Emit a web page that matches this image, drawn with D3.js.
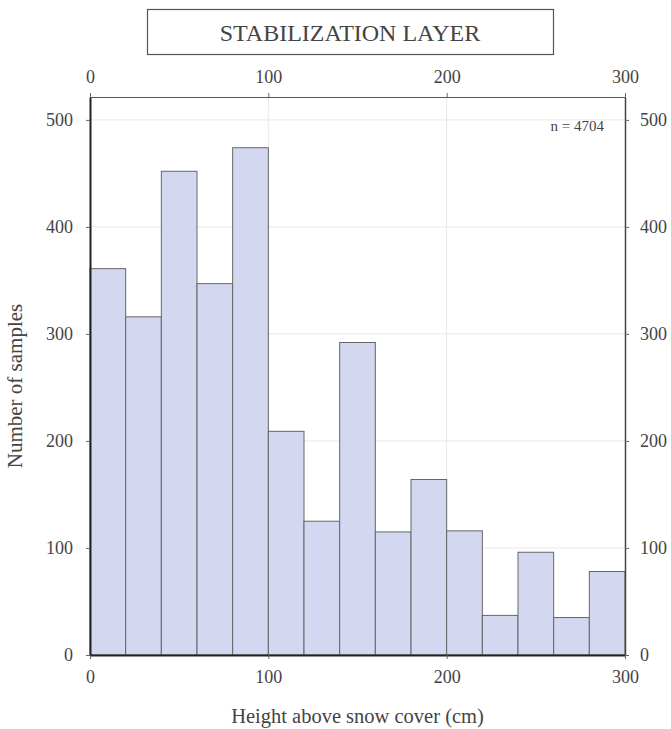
<!DOCTYPE html>
<html>
<head>
<meta charset="utf-8">
<script src="https://cdn.jsdelivr.net/npm/d3@7"></script>
<style>
  html, body { margin: 0; padding: 0; background: #fff; }
  svg { display: block; }
  text { font-family: "Liberation Serif", "DejaVu Serif", serif; fill: #444; }
</style>
</head>
<body>
<svg id="chart" width="671" height="729"></svg>
<script>
// Histogram of stabilization-layer heights, 20 cm bins
const binStarts = [0, 20, 40, 60, 80, 100, 120, 140, 160, 180, 200, 220, 240, 260, 280];
const binWidth = 20;
const counts = [361, 316, 452, 347, 474, 209, 125, 292, 115, 164, 116, 37, 96, 35, 78];
const xTicks = [0, 100, 200, 300];
const yTicks = [0, 100, 200, 300, 400, 500];
const titleText = "STABILIZATION LAYER";
const xLabel = "Height above snow cover (cm)";
const yLabel = "Number of samples";
const sampleNote = "n = 4704";

const svg = d3.select("#chart");
const plot = { left: 90, right: 625, top: 97, bottom: 655 };

const x = d3.scaleLinear().domain([0, 300]).range([plot.left, plot.right]);
const y = d3.scaleLinear().domain([0, d3.max(counts) * 1.1]).range([plot.bottom, plot.top]);

// gridlines
const grid = svg.append("g");
grid.selectAll("line.h").data(yTicks.slice(1)).join("line")
  .attr("x1", plot.left).attr("x2", plot.right)
  .attr("y1", d => y(d)).attr("y2", d => y(d))
  .attr("stroke", "#e8e8e8").attr("stroke-width", 1);
grid.selectAll("line.v").data(xTicks.slice(1, -1)).join("line")
  .attr("y1", plot.top).attr("y2", plot.bottom)
  .attr("x1", d => x(d)).attr("x2", d => x(d))
  .attr("stroke", "#e8e8e8").attr("stroke-width", 1);

// bars
svg.append("g").selectAll("rect").data(binStarts).join("rect")
  .attr("x", d => x(d))
  .attr("width", () => x(binWidth) - x(0))
  .attr("y", (d, i) => y(counts[i]))
  .attr("height", (d, i) => y(0) - y(counts[i]))
  .attr("fill", "#d3d8f0")
  .attr("stroke", "#666")
  .attr("stroke-width", 1);

// axes
const fontSize = "18px";
function styleAxis(g) {
  g.selectAll("text").style("font-size", fontSize).style("font-family", '"Liberation Serif", serif').attr("fill", "#444");
  g.selectAll("line").attr("stroke", "#666");
  g.select(".domain").attr("stroke", "#333");
}
svg.append("g").attr("transform", `translate(0,${plot.bottom})`)
  .call(d3.axisBottom(x).tickValues(xTicks).tickSize(4).tickPadding(11).tickSizeOuter(0))
  .call(styleAxis)
  .call(g => g.select(".domain").attr("stroke-width", 2).attr("stroke", "#222"));
svg.append("g").attr("transform", `translate(0,${plot.top})`)
  .call(d3.axisTop(x).tickValues(xTicks).tickSize(4).tickPadding(10).tickSizeOuter(0))
  .call(styleAxis)
  .call(g => g.select(".domain").attr("stroke", "#555"));
svg.append("g").attr("transform", `translate(${plot.left},0)`)
  .call(d3.axisLeft(y).tickValues(yTicks).tickSize(4).tickPadding(13).tickSizeOuter(0))
  .call(styleAxis)
  .call(g => g.select(".domain").attr("stroke-width", 2).attr("stroke", "#222"));
svg.append("g").attr("transform", `translate(${plot.right},0)`)
  .call(d3.axisRight(y).tickValues(yTicks).tickSize(4).tickPadding(11).tickSizeOuter(0))
  .call(styleAxis)
  .call(g => g.select(".domain").attr("stroke-width", 1.5).attr("stroke", "#444"));

// title box
svg.append("rect").attr("x", 147.5).attr("y", 9.5).attr("width", 406).attr("height", 45)
  .attr("fill", "#fff").attr("stroke", "#555").attr("stroke-width", 1.2);
svg.append("text").attr("x", 350).attr("y", 41).attr("text-anchor", "middle")
  .style("font-size", "24px").attr("fill", "#222").text(titleText);

// axis titles
svg.append("text").attr("x", x(150)).attr("y", 723).attr("text-anchor", "middle")
  .style("font-size", "20.5px").text(xLabel);
svg.append("text").attr("transform", `translate(22,386) rotate(-90)`)
  .attr("text-anchor", "middle").style("font-size", "21px").text(yLabel);

// sample count note
svg.append("text").attr("x", 604).attr("y", 131).attr("text-anchor", "end")
  .style("font-size", "15px").attr("fill", "#222").text(sampleNote);
</script>
</body>
</html>
